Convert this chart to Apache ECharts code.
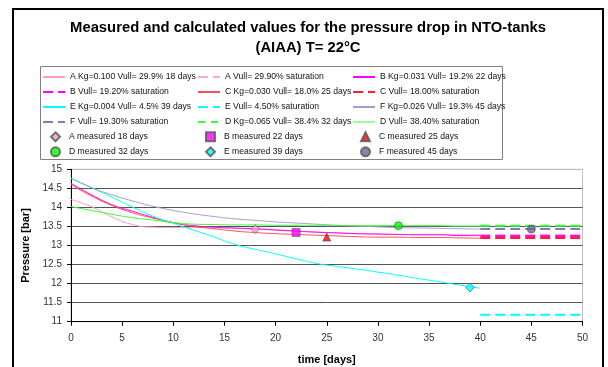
<!DOCTYPE html>
<html>
<head>
<meta charset="utf-8">
<script src="https://cdn.jsdelivr.net/npm/echarts@6/dist/echarts.min.js"></script>
<style>
  html, body { margin: 0; padding: 0; background: #fff; }
  #chart { width: 608px; height: 367px; }
</style>
</head>
<body>
<div id="chart"></div>
<script>
// time axis for the calculated curves (days)
const days = [0, 2, 4, 6, 8, 10, 12, 14, 16, 18, 20, 22, 24, 26, 28, 30, 32, 34, 36, 38, 40];
// calculated pressure [bar]
const curveA = [14.21, 14.02, 13.75, 13.55, 13.48, 13.47, 13.47, 13.46, 13.45, 13.43, 13.40, 13.37, 13.35, 13.33, 13.31, 13.30, 13.29, 13.29, 13.29, 13.28, 13.28];
const curveB = [14.63, 14.33, 14.07, 13.90, 13.74, 13.60, 13.52, 13.48, 13.46, 13.44, 13.41, 13.38, 13.35, 13.33, 13.31, 13.30, 13.29, 13.28, 13.28, 13.26, 13.26];
const curveC = [14.60, 14.30, 14.05, 13.86, 13.72, 13.60, 13.50, 13.44, 13.38, 13.34, 13.31, 13.29, 13.27, 13.25, 13.23, 13.22, 13.22, 13.21, 13.21, 13.20, 13.19];
const curveD = [14.02, 13.92, 13.82, 13.73, 13.67, 13.60, 13.56, 13.55, 13.54, 13.54, 13.53, 13.53, 13.53, 13.52, 13.52, 13.52, 13.52, 13.52, 13.52, 13.51, 13.51];
const curveE = [14.77, 14.52, 14.27, 14.01, 13.77, 13.58, 13.40, 13.22, 13.03, 12.90, 12.78, 12.65, 12.53, 12.45, 12.38, 12.30, 12.22, 12.13, 12.05, 11.96, 11.88];
const curveF = [14.76, 14.52, 14.33, 14.17, 14.03, 13.92, 13.83, 13.76, 13.70, 13.66, 13.62, 13.59, 13.56, 13.53, 13.51, 13.49, 13.47, 13.46, 13.45, 13.44, 13.43];
// saturation levels, drawn from day 40 to 50
const satDays = [40, 50];
const satA = 13.28, satB = 13.25, satC = 13.20, satD = 13.52, satE = 11.18, satF = 13.43;
// measured points
const measuredNames = ["A measured 18 days", "B measured 22 days", "C measured 25 days", "D measured 32 days", "E measured 39 days", "F measured 45 days"];
const measuredDays = [18, 22, 25, 32, 39, 45];
const measuredValues = [13.43, 13.34, 13.22, 13.52, 11.90, 13.43];
const yTicks = [11, 11.5, 12, 12.5, 13, 13.5, 14, 14.5, 15];

const FONT = "Liberation Sans, Arial, sans-serif";

function pairs(xs, ys) {
  return xs.map((x, i) => [x, ys[i]]);
}

function curve(name, values, color) {
  return {
    name: name, type: "line", data: pairs(days, values),
    symbol: "none", showSymbol: false, smooth: true,
    lineStyle: { color: color, width: 1 }, itemStyle: { color: color },
    emphasis: { disabled: true }
  };
}

function saturation(name, level, color) {
  return {
    name: name, type: "line", data: pairs(satDays, [level, level]),
    symbol: "none", showSymbol: false,
    lineStyle: { color: color, width: 2, type: [10, 5] }, itemStyle: { color: color },
    emphasis: { disabled: true }
  };
}

const markerStyles = [
  { symbol: "diamond", color: "#FF99CC", size: 9 },
  { symbol: "rect", color: "#FF00FF", size: 8 },
  { symbol: "triangle", color: "#FF0000", size: 8 },
  { symbol: "circle", color: "#00FF00", size: 8 },
  { symbol: "diamond", color: "#00FFFF", size: 9 },
  { symbol: "circle", color: "#666699", size: 8 }
];

const measuredSeries = measuredNames.map((name, i) => ({
  name: name, type: "scatter",
  data: [[measuredDays[i], measuredValues[i]]],
  symbol: markerStyles[i].symbol, symbolSize: markerStyles[i].size,
  itemStyle: { color: markerStyles[i].color, borderColor: "#555", borderWidth: 0.8 },
  z: 5
}));

const names = {
  aKg: "A Kg=0.100 Vull= 29.9% 18 days", aSat: "A Vull= 29.90% saturation",
  bKg: "B Kg=0.031 Vull= 19.2% 22 days", bSat: "B Vull= 19.20% saturation",
  cKg: "C Kg=0.030 Vull= 18.0% 25 days", cSat: "C Vull= 18.00% saturation",
  eKg: "E Kg=0.004 Vull= 4.5% 39 days", eSat: "E Vull= 4.50% saturation",
  fKg: "F Kg=0.026 Vull= 19.3% 45 days", fSat: "F Vull= 19.30% saturation",
  dKg: "D Kg=0.065 Vull= 38.4% 32 days", dSat: "D Vull= 38.40% saturation"
};

const series = [
  curve(names.aKg, curveA, "#FF99CC"),
  saturation(names.aSat, satA, "#FFA8D4"),
  curve(names.bKg, curveB, "#FF00FF"),
  saturation(names.bSat, satB, "#FF00FF"),
  curve(names.cKg, curveC, "#FF5050"),
  saturation(names.cSat, satC, "#FF2020"),
  curve(names.eKg, curveE, "#00FFFF"),
  saturation(names.eSat, satE, "#00FFFF"),
  curve(names.fKg, curveF, "#A0A0CC"),
  saturation(names.fSat, satF, "#8080B4"),
  curve(names.dKg, curveD, "#33FF33"),
  saturation(names.dSat, satD, "#33FF33")
].concat(measuredSeries);

const legendText = { fontFamily: FONT, fontSize: 8.6, color: "#111", lineHeight: 15 };
const legendBase = {
  orient: "vertical", padding: 0, itemGap: 0,
  itemWidth: 22, itemHeight: 10, selectedMode: false,
  itemStyle: { opacity: 0 },
  textStyle: legendText
};
const markerLegendBase = {
  orient: "vertical", padding: 0, itemGap: 0,
  itemWidth: 9, itemHeight: 9, selectedMode: false,
  textStyle: Object.assign({}, legendText, { padding: [0, 0, 0, 4] })
};

const chart = echarts.init(document.getElementById("chart"));
chart.setOption({
  animation: false,
  backgroundColor: "#fff",
  grid: { left: 71, right: 25.5, top: 169.3, bottom: 45.3, show: true, borderColor: "#C0C0C0", borderWidth: 1 },
  graphic: [
    { type: "rect", shape: { x: 13, y: 9, width: 590, height: 400 }, style: { fill: null, stroke: "#000", lineWidth: 2 }, silent: true },
    { type: "rect", shape: { x: 40.5, y: 66.5, width: 462, height: 93 }, style: { fill: null, stroke: "#808080", lineWidth: 1 }, silent: true },
    { type: "text", x: 308, y: 28, style: { text: "Measured and calculated values for the pressure drop in NTO-tanks", font: "bold 14.8px " + FONT, fill: "#000", textAlign: "center", textVerticalAlign: "middle" } },
    { type: "text", x: 308, y: 48, style: { text: "(AIAA) T= 22°C", font: "bold 14.8px " + FONT, fill: "#000", textAlign: "center", textVerticalAlign: "middle" } }
  ],
  legend: [
    Object.assign({}, legendBase, { left: 42, top: 69.5, data: [names.aKg, names.bSat, names.eKg, names.fSat] }),
    Object.assign({}, legendBase, { left: 197, top: 69.5, data: [names.aSat, names.cKg, names.eSat, { name: names.dKg, lineStyle: { type: [7, 6], width: 2 } }] }),
    Object.assign({}, legendBase, { left: 352, top: 69.5, data: [names.bKg, names.cSat, names.fKg, { name: names.dSat, lineStyle: { type: "solid", width: 1 } }] }),
    Object.assign({}, markerLegendBase, { left: 50, top: 129.3, data: [measuredNames[0], measuredNames[3]] }),
    Object.assign({}, markerLegendBase, { left: 205, top: 129.3, data: [measuredNames[1], measuredNames[4]] }),
    Object.assign({}, markerLegendBase, { left: 360, top: 129.3, data: [measuredNames[2], measuredNames[5]] })
  ],
  xAxis: {
    type: "value", min: 0, max: 50, interval: 5,
    name: "time [days]", nameLocation: "middle", nameGap: 33,
    nameTextStyle: { fontFamily: FONT, fontSize: 11, fontWeight: "bold", color: "#000" },
    axisLine: { onZero: false, lineStyle: { color: "#000", width: 1 } },
    axisTick: { show: true, length: 4, lineStyle: { color: "#000" } },
    axisLabel: { fontFamily: FONT, fontSize: 10, color: "#333", margin: 11.5 },
    splitLine: { show: false }
  },
  yAxis: {
    type: "value", min: yTicks[0], max: yTicks[yTicks.length - 1], interval: 0.5,
    name: "Pressure [bar]", nameLocation: "middle", nameGap: 29, nameRotate: 90,
    nameTextStyle: { fontFamily: FONT, fontSize: 11, fontWeight: "bold", color: "#000" },
    axisLine: { show: true, lineStyle: { color: "#000", width: 1 } },
    axisTick: { show: true, length: 4, lineStyle: { color: "#000" } },
    axisLabel: { fontFamily: FONT, fontSize: 10, color: "#333", margin: 9 },
    splitLine: { show: true, lineStyle: { color: ["#000", "#555", "#555", "#555", "#555", "#555", "#555", "#555", "#C0C0C0"], width: 1 } }
  },
  series: series
});
window.addEventListener("resize", function () {
  chart.resize();
});
</script>
</body>
</html>
